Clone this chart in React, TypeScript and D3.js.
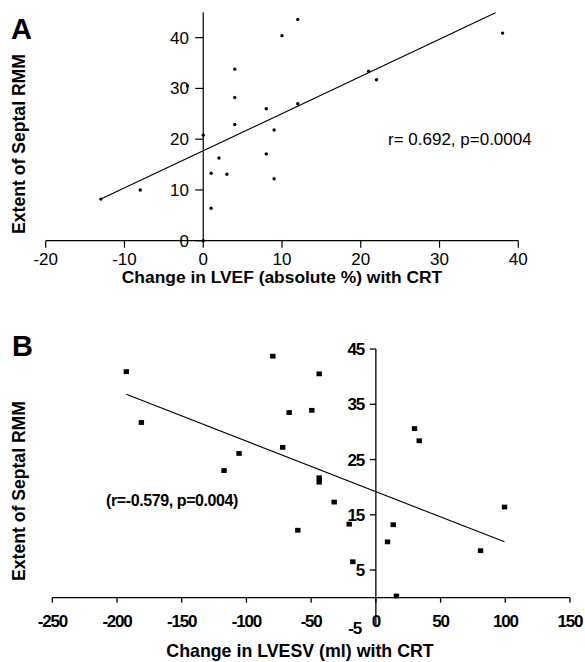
import React from "react";
import * as d3 from "d3";

// Panel A data: change in LVEF (absolute %) vs extent of septal RMM
const lvefX = [-13, -8, -2, 0, 0, 1, 1, 2, 3, 4, 4, 4, 8, 8, 9, 9, 10, 12, 12, 21, 22, 38];
const lvefY = [8.2, 10, 30.5, 20.8, 0, 13.3, 6.4, 16.3, 13.1, 33.8, 28.2, 22.9, 26, 17.1, 21.8, 12.2, 40.4, 43.6, 27, 33.4, 31.7, 40.9];
const lvefFitX = [-13, 37.1];
const lvefFitY = [8.2, 44.9];
const lvefXTicks = [-20, -10, 0, 10, 20, 30, 40];
const lvefYTicks = [0, 10, 20, 30, 40];

// Panel B data: change in LVESV (ml) vs extent of septal RMM
const lvesvX = [-192.8, -181.2, -117.3, -105.7, -79.6, -72, -67, -60.3, -49.5, -43.8, -43.8, -43.8, -32.2, -20.6, -17.8, 9, 13.4, 15.9, 29.9, 33.5, 80.9, 99.4];
const lvesvY = [40.9, 31.7, 23, 26.1, 43.7, 27.2, 33.5, 12.2, 33.9, 40.5, 21.7, 20.9, 17.3, 13.3, 6.5, 10.1, 13.2, 0.3, 30.6, 28.4, 8.5, 16.4];
const lvesvFitX = [-192.8, 99.4];
const lvesvFitY = [36.8, 10.1];
const lvesvXTicks = [-250, -200, -150, -100, -50, 0, 50, 100, 150];
const lvesvYTicks = [-5, 5, 15, 25, 35, 45];

const FONT = "'Liberation Sans', Arial, Helvetica, sans-serif";

export default function App() {
  const xA = d3.scaleLinear().domain([-20, 40]).range([45.7, 518.3]);
  const yA = d3.scaleLinear().domain([0, 45]).range([240.7, 12.3]);
  const xB = d3.scaleLinear().domain([-250, 150]).range([52.3, 570]);
  const yB = d3.scaleLinear().domain([-5, 45]).range([625.3, 349]);

  const lineGen = d3.line<[number, number]>();
  const fitA = lineGen(lvefFitX.map((v, i) => [xA(v), yA(lvefFitY[i])] as [number, number]));
  const fitB = lineGen(lvesvFitX.map((v, i) => [xB(v), yB(lvesvFitY[i])] as [number, number]));

  return (
    <svg
      width={585}
      height={662}
      style={{ position: "absolute", left: 0, top: 0, background: "#fff", display: "block" }}
      fontFamily={FONT}
    >
      <rect width={585} height={662} fill="#fff" />
      {/* ---------- Panel A ---------- */}
      <text x={11} y={39} fontSize={29} fontWeight="bold">A</text>
      {/* x axis */}
      <line x1={xA(-20)} x2={xA(40)} y1={yA(0)} y2={yA(0)} stroke="#000" strokeWidth={1.2} />
      {lvefXTicks.map((t) => (
        <g key={"ax" + t}>
          <line x1={xA(t)} x2={xA(t)} y1={yA(0)} y2={yA(0) + 7} stroke="#000" strokeWidth={1.2} />
          <text x={xA(t)} y={264.5} fontSize={17} textAnchor="middle">{t}</text>
        </g>
      ))}
      {/* y axis */}
      <line x1={xA(0)} x2={xA(0)} y1={yA(0)} y2={yA(45)} stroke="#000" strokeWidth={1.2} />
      {lvefYTicks.map((t) => (
        <g key={"ay" + t}>
          <line x1={xA(0) - 8} x2={xA(0)} y1={yA(t)} y2={yA(t)} stroke="#000" strokeWidth={1.2} />
          <text x={189} y={yA(t) + 6} fontSize={17} textAnchor="end">{t}</text>
        </g>
      ))}
      <path d={fitA || ""} stroke="#000" strokeWidth={1.1} fill="none" />
      {lvefX.map((v, i) => (
        <circle key={"pa" + i} cx={xA(v)} cy={yA(lvefY[i])} r={1.7} fill="#000" />
      ))}
      <text x={388} y={144.5} fontSize={17}>r= 0.692, p=0.0004</text>
      <text x={282} y={283} fontSize={17.4} fontWeight="bold" textAnchor="middle">Change in LVEF (absolute %) with CRT</text>
      <text transform="translate(25,144) rotate(-90)" fontSize={17.6} fontWeight="bold" textAnchor="middle">Extent of Septal RMM</text>

      {/* ---------- Panel B ---------- */}
      <text x={12} y={356} fontSize={29} fontWeight="bold">B</text>
      {/* x axis */}
      <line x1={xB(-250)} x2={xB(150)} y1={yB(0)} y2={yB(0)} stroke="#000" strokeWidth={1.3} />
      {lvesvXTicks.map((t) => (
        <g key={"bx" + t}>
          <line x1={xB(t)} x2={xB(t)} y1={yB(0)} y2={yB(0) + 5} stroke="#000" strokeWidth={1.3} />
          <text x={xB(t)} y={627} fontSize={17} fontWeight="bold" letterSpacing={-1.2} textAnchor="middle">{t}</text>
        </g>
      ))}
      {/* y axis */}
      <line x1={xB(0)} x2={xB(0)} y1={yB(-5)} y2={yB(45)} stroke="#000" strokeWidth={1.3} />
      {lvesvYTicks.map((t) => (
        <g key={"by" + t}>
          {t !== -5 && (
            <line x1={xB(0) - 6} x2={xB(0)} y1={yB(t)} y2={yB(t)} stroke="#000" strokeWidth={1.3} />
          )}
          <text x={t === -5 ? 361 : 364} y={yB(t) + 6 + (t === -5 ? 3 : 0)} fontSize={17} fontWeight="bold" letterSpacing={-1.2} textAnchor="end">{t}</text>
        </g>
      ))}
      <path d={fitB || ""} stroke="#000" strokeWidth={1.1} fill="none" />
      {lvesvX.map((v, i) => (
        <rect key={"pb" + i} x={xB(v) - 2.7} y={yB(lvesvY[i]) - 2.4} width={5.4} height={4.8} fill="#000" />
      ))}
      <text x={106} y={506} fontSize={16} fontWeight="bold" letterSpacing={-0.4}>(r=-0.579, p=0.004)</text>
      <text x={300} y={657} fontSize={17.8} fontWeight="bold" textAnchor="middle">Change in LVESV (ml) with CRT</text>
      <text transform="translate(25,491) rotate(-90)" fontSize={17.6} fontWeight="bold" textAnchor="middle">Extent of Septal RMM</text>
    </svg>
  );
}
